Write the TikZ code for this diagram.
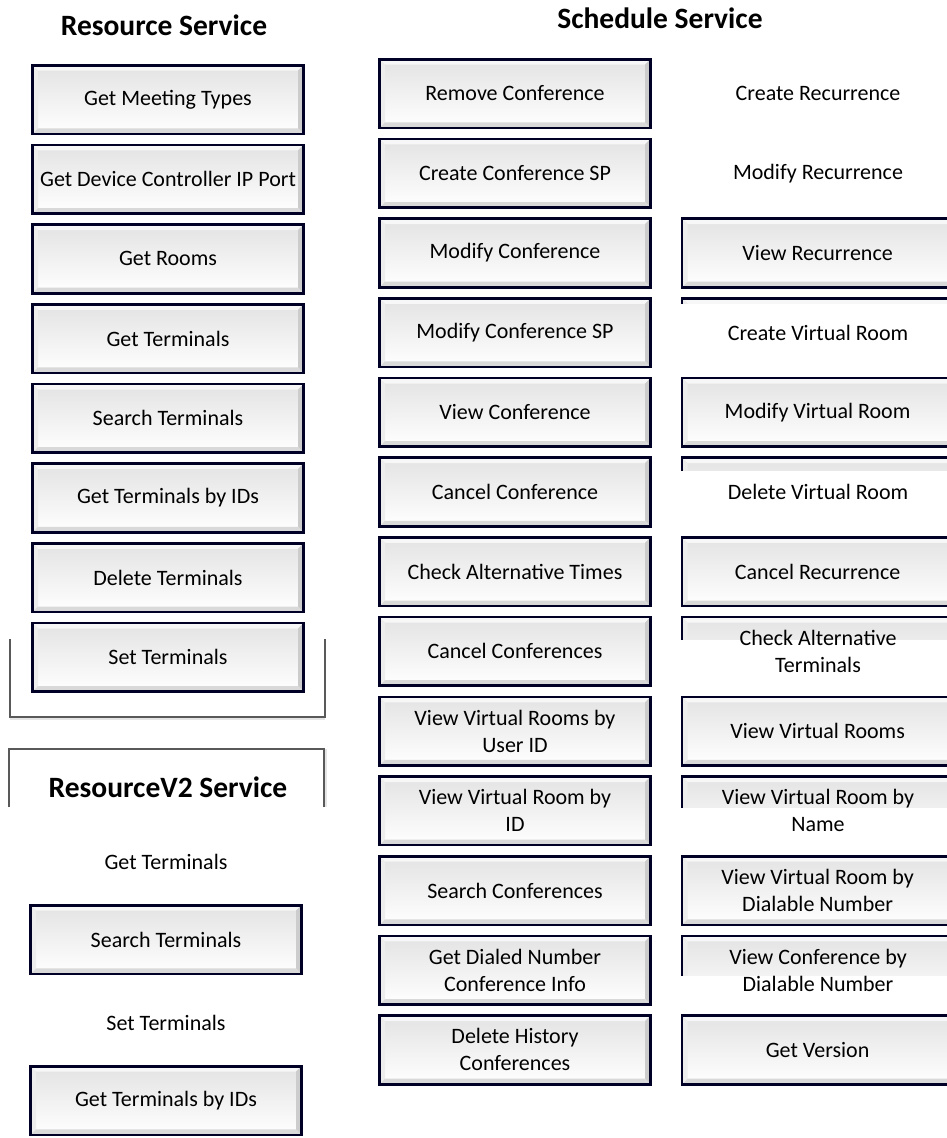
\documentclass[tikz,border=0pt]{standalone}
\usepackage{fontspec}
\setmainfont{Carlito}
\usetikzlibrary{positioning, calc}
\newcommand{\bvl}{5.5pt}
\tikzset{
	btn/.style   ={rectangle, draw=black!85!blue, line width=2.6pt, minimum width=271pt, minimum height=68.6pt,
	               inner sep=0pt, align=center, top color=gray!22, bottom color=white,
	               font=\fontsize{22}{27}\selectfont,
	               path picture={
	                 \fill[gray!6] let \p1=(path picture bounding box.south west), \p2=(path picture bounding box.north east) in
	                   (\x1,\y2) -- (\x2,\y2) -- (\x2-\bvl,\y2-\bvl) -- (\x1+\bvl,\y2-\bvl) -- cycle;
	                 \fill[gray!14] let \p1=(path picture bounding box.south west), \p2=(path picture bounding box.north east) in
	                   (\x1,\y1) -- (\x1,\y2) -- (\x1+\bvl,\y2-\bvl) -- (\x1+\bvl,\y1+\bvl) -- cycle;
	                 \fill[gray!40] let \p1=(path picture bounding box.south west), \p2=(path picture bounding box.north east) in
	                   (\x2,\y1) -- (\x2,\y2) -- (\x2-\bvl,\y2-\bvl) -- (\x2-\bvl,\y1+\bvl) -- cycle;
	                 \fill[gray!30] let \p1=(path picture bounding box.south west), \p2=(path picture bounding box.north east) in
	                   (\x1,\y1) -- (\x2,\y1) -- (\x2-\bvl,\y1+\bvl) -- (\x1+\bvl,\y1+\bvl) -- cycle;
	               }},
	lbl/.style   ={align=center, inner sep=0pt, font=\fontsize{22}{27}\selectfont},
	title/.style ={inner sep=0pt, font=\fontsize{29.5}{34}\selectfont\bfseries},
	frame/.style ={draw=gray!70!black, line width=1.5pt},
	shade/.style ={draw=gray!20, line width=2pt},
}
\begin{document}
\begin{tikzpicture}[x=1pt, y=-1pt, node distance=8.5pt]
	\useasboundingbox (0,0) rectangle (947,1138);
	\clip (0,0) rectangle (947,1138);
	% titles
	\node[title] (trs) at (164,25) {Resource Service};
	\node[title] (tss) at (660,18) {Schedule Service};
	% resource service
	\node[btn] (rs1) at (168,99.5) {Get Meeting Types};
	\node[btn, below=of rs1] (rs2) {Get Device Controller IP Port};
	\node[btn, below=of rs2] (rs3) {Get Rooms};
	\node[btn, below=of rs3] (rs4) {Get Terminals};
	\node[btn, below=of rs4] (rs5) {Search Terminals};
	\node[btn, below=of rs5] (rs6) {Get Terminals by IDs};
	\node[btn, below=of rs6] (rs7) {Delete Terminals};
	\node[btn, below=of rs7] (rs8) {Set Terminals};
	% frame pieces
	\coordinate (fa) at (10,639);
	\coordinate (fb) at (10,717);
	\coordinate (fc) at (325,717);
	\coordinate (fd) at (325,639);
	\draw[shade] ([yshift=-2pt]fb) -- ([yshift=-2pt]fc);
	\draw[frame] (fa) -- (fb) -- (fc) -- (fd);
	\coordinate (ga) at (9,807);
	\coordinate (gb) at (9,749);
	\coordinate (gc) at (324,749);
	\coordinate (gd) at (324,807);
	\draw[shade] ([xshift=2pt]gc) -- ([xshift=2pt]gd);
	\draw[frame] (ga) -- (gb) -- (gc) -- (gd);
	\node[title] (trv) at (168,787) {ResourceV2 Service};
	% resourcev2 service
	\node[lbl] (rv1) at (166,862) {Get Terminals};
	\begin{scope}
		\clip (0,900) rectangle (340,974);
		\node[btn] (rv2) at (166,939.5) {Search Terminals};
	\end{scope}
	\node[lbl] (rv3) at (166,1023) {Set Terminals};
	\node[btn] (rv4) at (166,1100.5) {Get Terminals by IDs};
	% schedule service
	\node[btn] (m1) at (515,93.5) {Remove Conference};
	\node[btn, below=of m1] (m2) {Create Conference SP};
	\node[btn, below=of m2] (m3) {Modify Conference};
	\node[btn, below=of m3] (m4) {Modify Conference SP};
	\node[btn, below=of m4] (m5) {View Conference};
	\node[btn, below=of m5] (m6) {Cancel Conference};
	\node[btn, below=of m6] (m7) {Check Alternative Times};
	\node[btn, below=of m7] (m8) {Cancel Conferences};
	\node[btn, below=of m8] (m9) {View Virtual Rooms by\\User ID};
	\node[btn, below=of m9] (m10) {View Virtual Room by\\ID};
	\node[btn, below=of m10] (m11) {Search Conferences};
	\node[btn, below=of m11] (m12) {Get Dialed Number\\Conference Info};
	\node[btn, below=of m12] (m13) {Delete History\\Conferences};
	% right column
	\coordinate (rx) at (818,0);
	\node[lbl] (r1) at (m1 -| rx) {Create Recurrence};
	\node[lbl] (r2) at (m2 -| rx) {Modify Recurrence};
	\node[btn, right=29pt of m3] (r3) {View Recurrence};
	\begin{scope}
		\clip (670,296) rectangle (947,303);
		\node[btn, right=29pt of m4] (r4b) {};
	\end{scope}
	\node[lbl] (r4) at (m4 -| rx) {Create Virtual Room};
	\node[btn, right=29pt of m5] (r5) {Modify Virtual Room};
	\begin{scope}
		\clip (670,455) rectangle (947,470);
		\node[btn, right=29pt of m6] (r6b) {};
	\end{scope}
	\node[lbl] (r6) at (m6 -| rx) {Delete Virtual Room};
	\node[btn, right=29pt of m7] (r7) {Cancel Recurrence};
	\begin{scope}
		\clip (670,612) rectangle (947,639);
		\node[btn, right=29pt of m8] (r8b) {};
	\end{scope}
	\node[lbl] (r8) at (m8 -| rx) {Check Alternative\\Terminals};
	\node[btn, right=29pt of m9] (r9) {View Virtual Rooms};
	\begin{scope}
		\clip (670,772) rectangle (947,807);
		\node[btn, right=29pt of m10] (r10b) {};
	\end{scope}
	\node[lbl] (r10) at (m10 -| rx) {View Virtual Room by\\Name};
	\node[btn, right=29pt of m11] (r11) {View Virtual Room by\\Dialable Number};
	\begin{scope}
		\clip (670,931) rectangle (947,975);
		\node[btn, right=29pt of m12] (r12b) {};
	\end{scope}
	\node[lbl] (r12) at (m12 -| rx) {View Conference by\\Dialable Number};
	\node[btn, right=29pt of m13] (r13) {Get Version};
\end{tikzpicture}
\end{document}
